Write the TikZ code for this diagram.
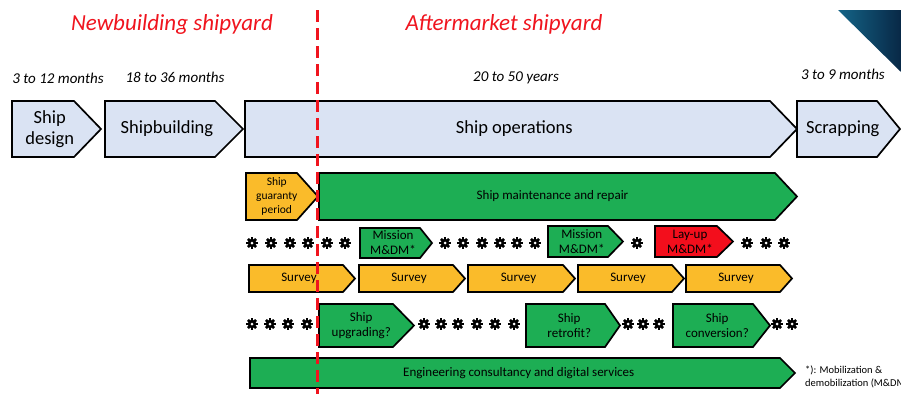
\documentclass[tikz,border=0pt]{standalone}
\usepackage{fontspec}
\setmainfont{Carlito}
\definecolor{lblue}{RGB}{218,227,243}
\definecolor{mygreen}{RGB}{29,174,84}
\definecolor{myyellow}{RGB}{250,187,42}
\definecolor{myred}{RGB}{243,14,28}
\definecolor{titlered}{RGB}{240,20,30}
\definecolor{triA}{RGB}{20,100,135}
\definecolor{triB}{RGB}{8,40,70}
\tikzset{
  arr/.style={draw=black, line width=1.7pt, line join=miter},
  opsbox/.style={arr, fill=lblue},
  greenbox/.style={arr, fill=mygreen},
  yellowbox/.style={arr, fill=myyellow},
  redbox/.style={arr, fill=myred},
  lbl/.style={inner sep=0pt, align=center, text=black},
  tbig/.style={lbl, font=\fontsize{18.5}{21.5}\selectfont},
  tmid/.style={lbl, font=\fontsize{13}{15}\selectfont},
  tsml/.style={lbl, font=\fontsize{11.5}{14}\selectfont},
  dur/.style={inner sep=0pt, font=\itshape\fontsize{15}{18}\selectfont},
  ttl/.style={inner sep=0pt, text=titlered, font=\itshape\fontsize{23}{27}\selectfont},
  gear/.pic={
    \fill[black] (0,0) circle (4.3);
    \foreach \a in {0,45,...,315}{\fill[black,rotate=\a] (-1.25,3.5) rectangle (1.25,5.8);}
    \fill[white] (0,0) circle (1.5);
  }
}
% name, x1, y1, x2(tip), y2, depth, box style, text, text style
\newcommand\pentarrow[9]{%
  \draw[#7] (#2,#3) -- ({#4-#6},#3) -- (#4,{(#3+#5)/2}) -- ({#4-#6},#5) -- (#2,#5) -- cycle;
  \node[#9] (#1) at ({(#2+#4-#6/2)/2},{(#3+#5)/2}) {#8};
}
\begin{document}
\begin{tikzpicture}[x=1pt,y=-1pt]
\useasboundingbox (0,0) rectangle (901,394);
\clip (0,0) rectangle (901,394);
\fill[white] (0,0) rectangle (901,394);

% corner triangle
\shade[left color=triA, right color=triB] (838,10) -- (901,10) -- (901,72) -- cycle;

% titles
\node[ttl] (tnew) at (172,24) {Newbuilding shipyard};
\node[ttl] (taft) at (504,24) {Aftermarket shipyard};

% durations
\node[dur] (d1) at (58,78) {3 to 12 months};
\node[dur] (d2) at (175,77) {18 to 36 months};
\node[dur] (d3) at (516,78) {20 to 50 years};
\node[dur] (d4) at (843,74) {3 to 9 months};

% main phases
\pentarrow{design}{12}{101}{101}{157}{27}{opsbox}{Ship\\design}{tbig}
\pentarrow{building}{105}{101}{243}{157}{28}{opsbox}{Shipbuilding}{tbig}
\pentarrow{ops}{245}{101}{797}{157}{27}{opsbox}{Ship operations}{tbig}
\pentarrow{scrap}{797}{101}{900}{157}{23}{opsbox}{Scrapping}{tbig}

% row 2
\pentarrow{guar}{246}{173}{318}{220}{21}{yellowbox}{Ship\\guaranty\\period}{tsml}
\pentarrow{maint}{319}{173}{797}{220}{22}{greenbox}{Ship maintenance and repair}{tmid}

% row 3
\pentarrow{mis1}{360}{228}{432}{258}{12}{greenbox}{Mission\\M\&DM*}{tmid}
\pentarrow{mis2}{548}{226}{623}{257}{15}{greenbox}{Mission\\M\&DM*}{tmid}
\pentarrow{layup}{655}{226}{733}{257}{16}{redbox}{Lay-up\\M\&DM*}{tmid}
\foreach \gx in {252,271,290,308,327,345,445,463,482,500,517,535,637,747,766,784}
  \pic at (\gx,243) {gear};

% row 4
\pentarrow{sv1}{249}{265}{355}{292}{12}{yellowbox}{Survey}{tmid}
\pentarrow{sv2}{359}{265}{465}{292}{12}{yellowbox}{Survey}{tmid}
\pentarrow{sv3}{468}{265}{575}{292}{12}{yellowbox}{Survey}{tmid}
\pentarrow{sv4}{578}{265}{684}{292}{12}{yellowbox}{Survey}{tmid}
\pentarrow{sv5}{686}{265}{792}{292}{12}{yellowbox}{Survey}{tmid}

% row 5
\pentarrow{upg}{319}{304}{414}{347}{21}{greenbox}{Ship\\upgrading?}{tmid}
\pentarrow{retro}{526}{304}{620}{347}{15}{greenbox}{Ship\\retrofit?}{tmid}
\pentarrow{conv}{673}{304}{770}{347}{17}{greenbox}{Ship\\conversion?}{tmid}
\foreach \gx in {252,270,288,307,424,441,458,477,495,514,628,643,659,777,792}
  \pic at (\gx,324) {gear};

% row 6
\pentarrow{eng}{250}{358}{795}{388}{15}{greenbox}{Engineering consultancy and digital services}{tmid}

% footnote
\node[anchor=west, align=left, inner sep=0pt, font=\fontsize{10.5}{13}\selectfont] (fn) at (805,376.5)
  {*): Mobilization \&\\demobilization (M\&DM*)};

% divider
\coordinate (divtop) at (317,10);
\coordinate (divbot) at (317,394);
\draw[titlered, line width=3pt, dash pattern=on 12pt off 6pt] (divtop) -- (divbot);
\end{tikzpicture}
\end{document}
